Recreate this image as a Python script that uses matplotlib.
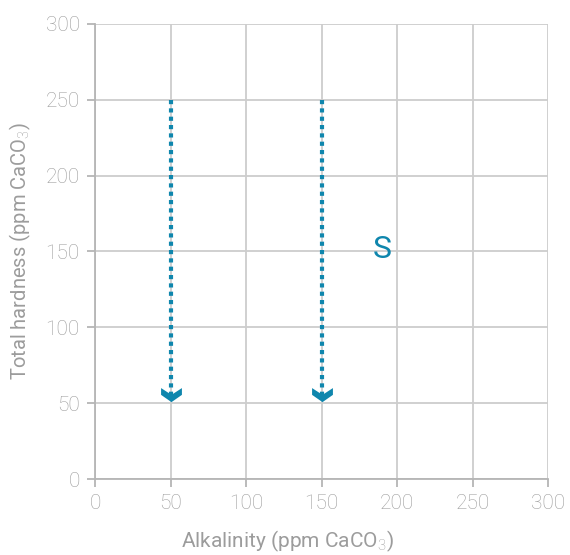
import numpy as np
import matplotlib.pyplot as plt
from matplotlib.path import Path

# arrows: alkalinity positions, hardness start and end
arrow_x = [50, 150]
arrow_start = [250, 250]
arrow_end = [50.5, 50.5]

label_text = "S"
label_pos = (190, 151)

x_ticks = [0, 50, 100, 150, 200, 250, 300]
y_ticks = [0, 50, 100, 150, 200, 250, 300]

teal = "#0f86ad"
grey_text = "#9c9c9c"
grid_col = "#cdcdcd"

plt.rcParams['font.family'] = ['Roboto', 'DejaVu Sans']
plt.rcParams['font.weight'] = 'light'
plt.rcParams['mathtext.fontset'] = 'custom'
plt.rcParams['mathtext.rm'] = 'Roboto:light'

fig = plt.figure(figsize=(5.7, 5.55), dpi=100)
ax = fig.add_axes([0.1667, 0.1369, 0.7947, 0.8199])

ax.set_xlim(0, 300)
ax.set_ylim(0, 300)
ax.set_xticks(x_ticks)
ax.set_yticks(y_ticks)
ax.grid(True, color=grid_col, linewidth=1.3)
ax.set_axisbelow(True)

for side in ['top', 'right']:
    ax.spines[side].set_visible(False)
for side in ['left', 'bottom']:
    ax.spines[side].set_color("#b5b5b5")
    ax.spines[side].set_linewidth(1.3)

ax.tick_params(colors="#b5b5b5", labelcolor=grey_text, labelsize=15,
               length=6, width=1.3, pad=5)

ax.set_xlabel("Alkalinity (ppm CaCO$_3$)", color=grey_text, fontsize=15)
ax.set_ylabel("Total hardness (ppm CaCO$_3$)", color=grey_text, fontsize=14.5)
ax.xaxis.set_label_coords(0.425, -0.108)
ax.yaxis.set_label_coords(-0.136, 0.5)

# chevron head pointing down
chevron = Path([(-1, 1), (0, 0.35), (1, 1), (1, 0.35), (0, -0.35), (-1, 0.35), (-1, 1)],
               [Path.MOVETO] + [Path.LINETO] * 5 + [Path.CLOSEPOLY])

for x, y0, y1 in zip(arrow_x, arrow_start, arrow_end):
    ax.plot([x, x], [y0, y1 + 5], color=teal, linewidth=3,
            linestyle=(0, (1, 1)), dash_capstyle='butt', zorder=3)
    ax.plot([x], [y1 + 3], marker=chevron, markersize=15, color=teal,
            markeredgewidth=0, zorder=4)

ax.text(label_pos[0], label_pos[1], label_text, color=teal, fontsize=23,
        ha='center', va='center', fontweight='normal')

fig.savefig("out.png", dpi=100)
